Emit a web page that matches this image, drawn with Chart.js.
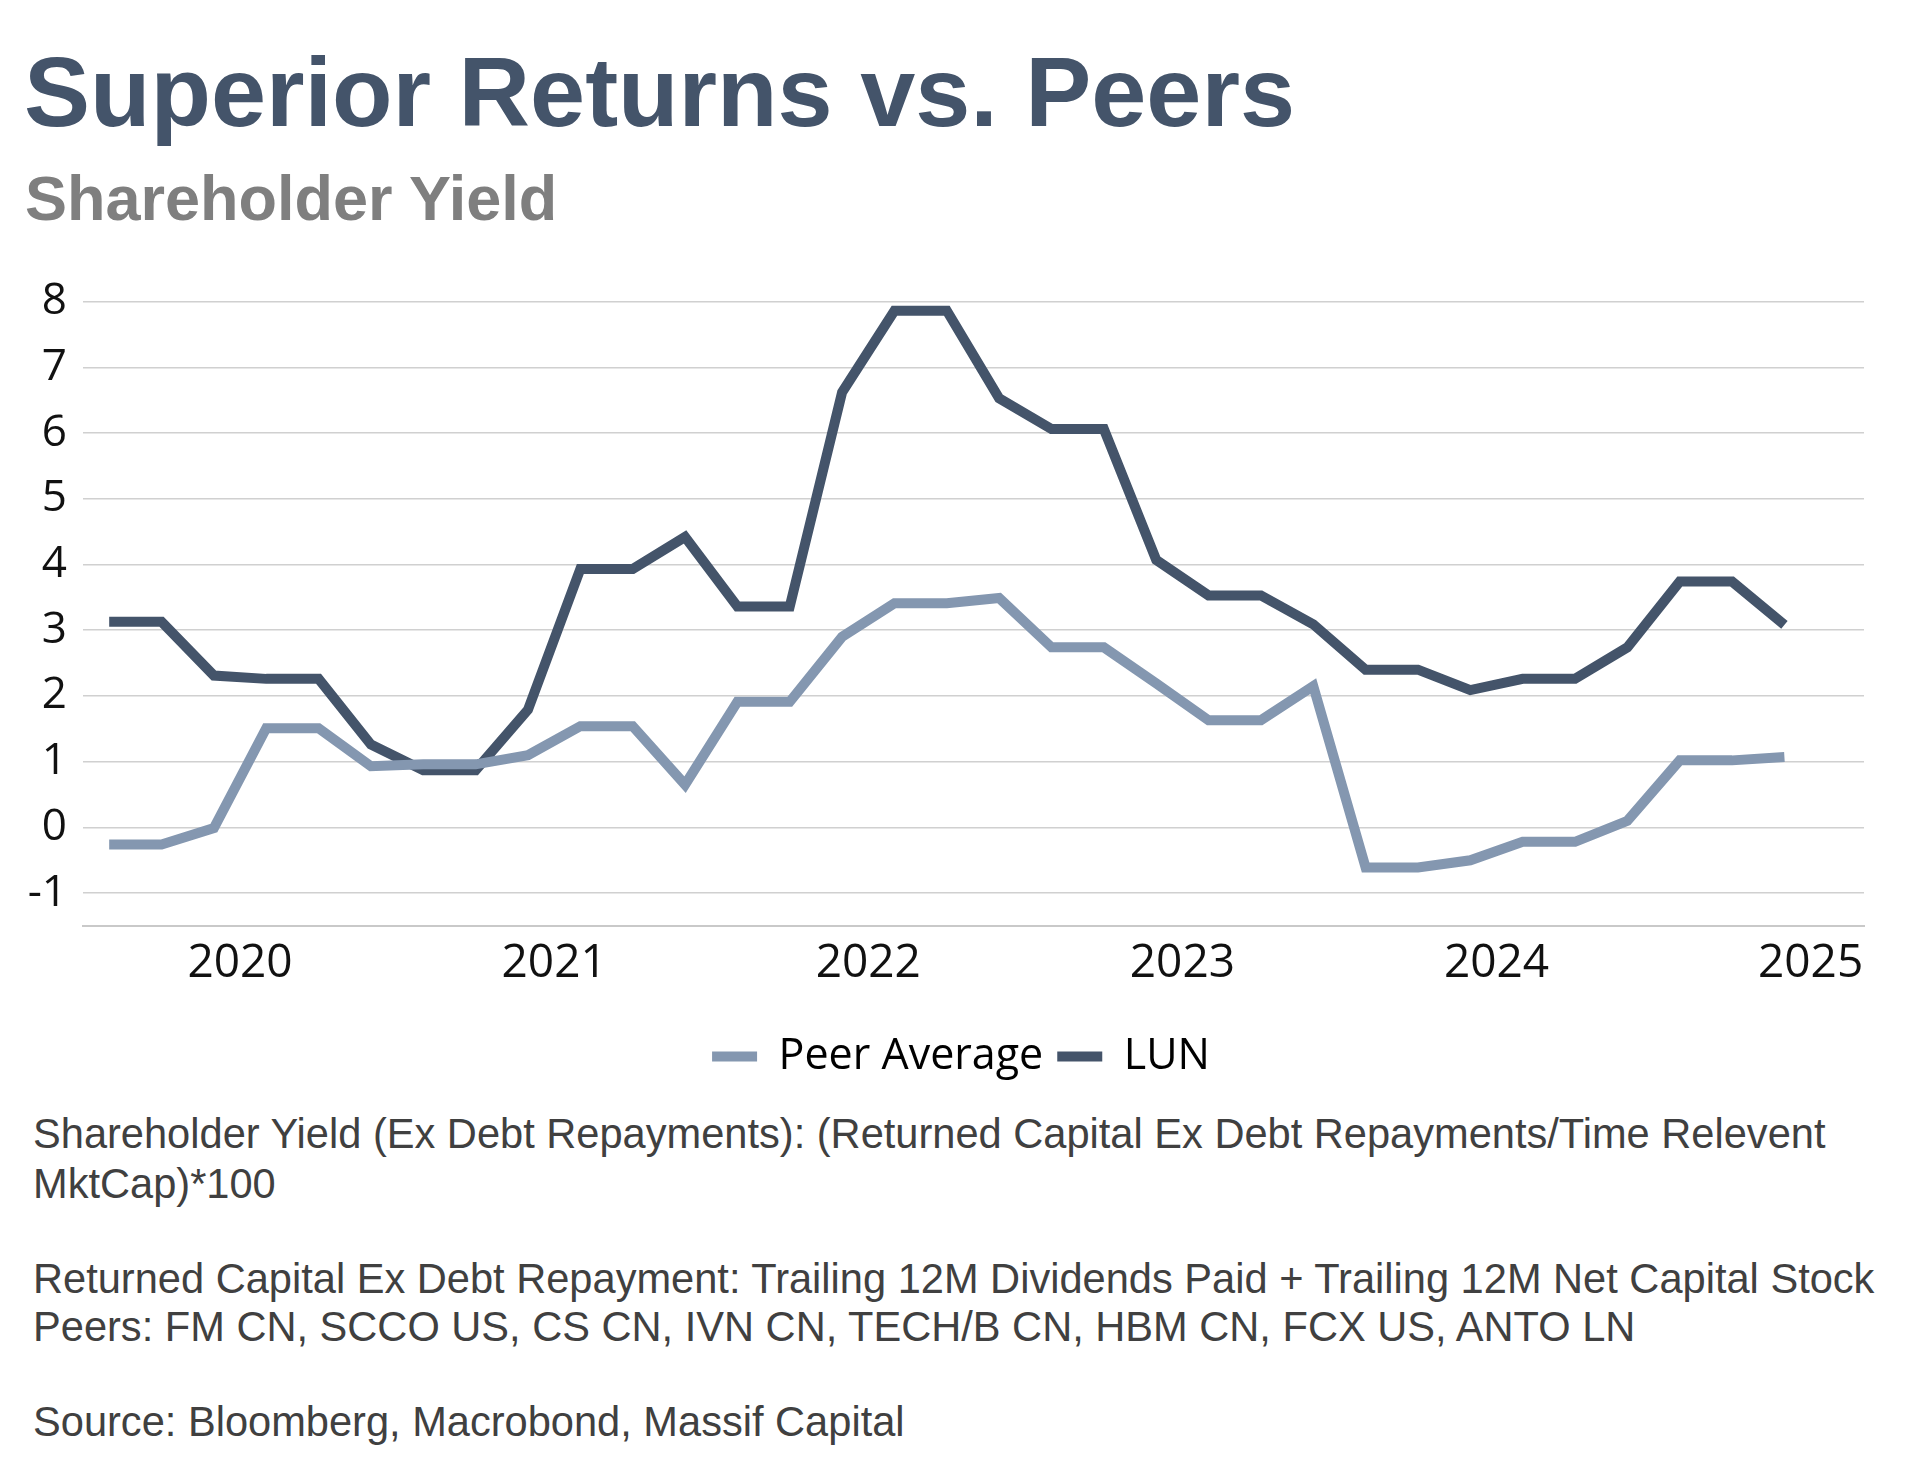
<!DOCTYPE html>
<html>
<head>
<meta charset="utf-8">
<script src="https://cdn.jsdelivr.net/npm/chart.js@4/dist/chart.umd.min.js"></script>
<style>
    body { margin: 0; width: 1920px; height: 1477px; background: #fff; position: relative; overflow: hidden; }
    .txt { position: absolute; white-space: nowrap; line-height: 1; font-family: "Liberation Sans", Arial, sans-serif; }
    #title { left: 24px; top: 42px; font-size: 99px; font-weight: bold; color: #44546A; }
    #subtitle { left: 25px; top: 167px; font-size: 63px; font-weight: bold; color: #7F7F7F; }
    .note { left: 33px; font-size: 41.6px; color: #404040; }
    #chartBox { position: absolute; left: 0; top: 240px; width: 1920px; height: 860px; }
</style>
</head>
<body>
<div class="txt" id="title">Superior Returns vs. Peers</div>
<div class="txt" id="subtitle">Shareholder Yield</div>

<div id="chartBox"><canvas id="yieldChart"></canvas></div>

<div class="txt note" style="top:1113px">Shareholder Yield (Ex Debt Repayments): (Returned Capital Ex Debt Repayments/Time Relevent</div>
<div class="txt note" style="top:1163px">MktCap)*100</div>
<div class="txt note" style="top:1258px">Returned Capital Ex Debt Repayment: Trailing 12M Dividends Paid + Trailing 12M Net Capital Stock</div>
<div class="txt note" style="top:1306px">Peers: FM CN, SCCO US, CS CN, IVN CN, TECH/B CN, HBM CN, FCX US, ANTO LN</div>
<div class="txt note" style="top:1401px">Source: Bloomberg, Macrobond, Massif Capital</div>

<script>
// Data (bi-monthly, end of month)
const dates = ['2019-07', '2019-09', '2019-11', '2020-01', '2020-03', '2020-05', '2020-07', '2020-09', '2020-11',
    '2021-01', '2021-03', '2021-05', '2021-07', '2021-09', '2021-11', '2022-01', '2022-03', '2022-05', '2022-07',
    '2022-09', '2022-11', '2023-01', '2023-03', '2023-05', '2023-07', '2023-09', '2023-11', '2024-01', '2024-03',
    '2024-05', '2024-07', '2024-09', '2024-11'];

const peerAverage = [-0.26, -0.26, -0.01, 1.51, 1.51, 0.93, 0.96, 0.96, 1.10, 1.54, 1.54, 0.65, 1.91, 1.91, 2.90,
    3.41, 3.41, 3.49, 2.74, 2.74, 2.19, 1.63, 1.63, 2.15, -0.61, -0.61, -0.50, -0.22, -0.22, 0.10, 1.02, 1.02, 1.07];

const lun = [3.13, 3.13, 2.31, 2.26, 2.26, 1.26, 0.87, 0.87, 1.79, 3.93, 3.93, 4.42, 3.36, 3.36, 6.62, 7.86, 7.86,
    6.53, 6.06, 6.06, 4.07, 3.53, 3.53, 3.09, 2.40, 2.40, 2.09, 2.26, 2.26, 2.74, 3.74, 3.74, 3.08];

const yearTicks = [2020, 2021, 2022, 2023, 2024, 2025];
const valueTicks = [-1, 0, 1, 2, 3, 4, 5, 6, 7, 8];

// 'YYYY-MM' -> decimal year at end of month
function toYear(d) {
    const parts = d.split('-');
    return Number(parts[0]) + Number(parts[1]) / 12;
}

function toPoints(values) {
    return values.map((v, i) => ({ x: toYear(dates[i]), y: v }));
}

// Keep the legend centred on the page instead of left of the plot
const legendShift = {
    id: 'legendShift',
    afterLayout(chart) {
        chart.legend.left = 58;
    },
};

// Render the chart
const ctx = document.getElementById('yieldChart').getContext('2d');
new Chart(ctx, {
    type: 'line',
    data: {
        datasets: [
            {
                label: 'Peer Average',
                data: toPoints(peerAverage),
                borderColor: '#8497B0',
                backgroundColor: '#8497B0',
                borderWidth: 10,
            },
            {
                label: 'LUN',
                data: toPoints(lun),
                borderColor: '#44546A',
                backgroundColor: '#44546A',
                borderWidth: 10,
            },
        ],
    },
    plugins: [legendShift],
    options: {
        responsive: true,
        maintainAspectRatio: false,
        animation: false,
        devicePixelRatio: 1,
        layout: { padding: { left: 0, right: 56, top: 61.6, bottom: 12 } },
        elements: {
            point: { radius: 0, hoverRadius: 0 },
            line: { tension: 0, borderJoinStyle: 'miter', borderCapStyle: 'butt' },
        },
        plugins: {
            tooltip: { enabled: false },
            legend: {
                position: 'bottom',
                labels: {
                    color: '#000',
                    font: { family: 'Open Sans', size: 43 },
                    boxWidth: 45,
                    boxHeight: 10,
                    padding: 14,
                    generateLabels: (chart) => {
                        const items = Chart.defaults.plugins.legend.labels.generateLabels(chart);
                        items.forEach(it => { it.lineWidth = 0; it.fillStyle = it.strokeStyle; });
                        return items;
                    },
                },
            },
        },
        scales: {
            x: {
                type: 'linear',
                min: 2019.5,
                max: 2025.17,
                grid: { display: false, drawTicks: false },
                border: { display: true, color: '#C9C9C9', width: 2 },
                ticks: {
                    color: '#111',
                    font: { family: 'Open Sans', size: 46 },
                    padding: 10.4,
                    maxRotation: 0,
                    callback: (v) => String(v),
                },
                afterBuildTicks: (scale) => { scale.ticks = yearTicks.map(v => ({ value: v })); },
                afterFit: (scale) => { scale.height = 95; },
            },
            y: {
                type: 'linear',
                min: -1.5,
                max: 8,
                grid: { color: '#D0D0D0', lineWidth: 1.6, drawTicks: false },
                border: { display: false },
                ticks: {
                    color: '#111',
                    font: { family: 'Open Sans', size: 44 },
                    padding: 16,
                },
                afterBuildTicks: (scale) => { scale.ticks = valueTicks.map(v => ({ value: v })); },
                afterFit: (scale) => { scale.width = 83; },
            },
        },
    },
});
</script>
</body>
</html>
